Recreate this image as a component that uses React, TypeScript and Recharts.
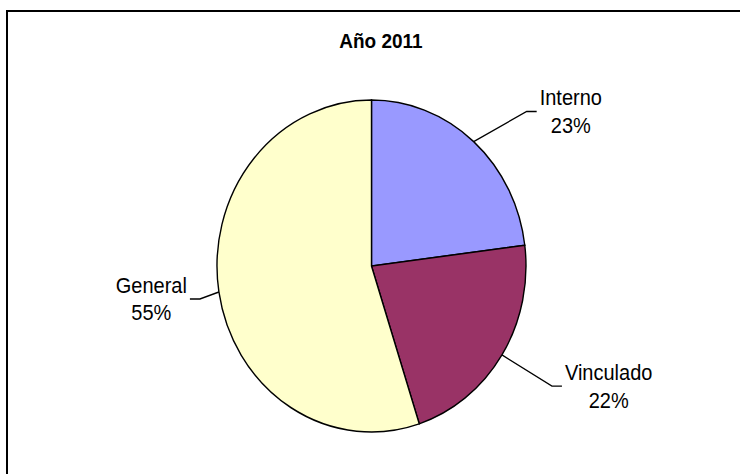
import React from "react";
import { PieChart, Pie, Cell } from "recharts";

//========== Chart Data ==========
const chartTitle = "Año 2011";
const categories = ["Interno", "Vinculado", "General"];
const shares = [23, 22, 55];
const sliceColors = ["#9999FF", "#993366", "#FFFFCC"];

//========== Label leader elbows (offset from slice edge point) ==========
const leaderElbows: [number, number][] = [
  [53, -28],
  [50, 29],
  [-19, 6.5],
];

const FONT = '"Liberation Sans", Arial, sans-serif';
const STRETCH_Y = 1.074;
const RADIAN = Math.PI / 180;
const LABEL_SIZE = 20;

const data = categories.map((name, i) => ({ name, value: shares[i] }));

let ctx: CanvasRenderingContext2D | null = null;
const textWidth = (s: string, size: number) => {
  if (!ctx) ctx = document.createElement("canvas").getContext("2d");
  if (!ctx) return s.length * size * 0.5;
  ctx.font = `${size}px "Liberation Sans", Arial, sans-serif`;
  return ctx.measureText(s).width;
};

const renderLabel = (props: any) => {
  const { cx, cy, midAngle, outerRadius, percent, index, name } = props;
  const ex = cx + outerRadius * Math.cos(-midAngle * RADIAN);
  const ey = cy + outerRadius * Math.sin(-midAngle * RADIAN);
  const [dx, dy] = leaderElbows[index];
  const bx = ex + dx;
  const by = ey + dy;
  const dir = dx >= 0 ? 1 : -1;
  const hx = bx + dir * 10;
  const pct = `${Math.round(percent * 100)}%`;
  const w = Math.max(textWidth(name, LABEL_SIZE), textWidth(pct, LABEL_SIZE));
  const tx = hx + dir * (3 + w / 2);
  return (
    <g>
      <polyline
        points={`${ex},${ey} ${bx},${by} ${hx},${by}`}
        fill="none"
        stroke="#000"
        strokeWidth={1.3}
      />
      <text x={tx} y={by - 6} textAnchor="middle" fontSize={LABEL_SIZE} fontFamily={FONT} fill="#000">
        {name}
      </text>
      <text x={tx} y={by + 20} textAnchor="middle" fontSize={LABEL_SIZE} fontFamily={FONT} fill="#000">
        {pct}
      </text>
    </g>
  );
};

//========== App ==========
const App: React.FC = () => {
  return (
    <div
      style={{
        position: "absolute",
        left: 0,
        top: 0,
        width: 740,
        height: 474,
        overflow: "hidden",
        background: "#fff",
      }}
    >
      {/*========== Chart area border ==========*/}
      <div
        style={{
          position: "absolute",
          left: 6,
          top: 10,
          width: 800,
          height: 600,
          borderTop: "2px solid #000",
          borderLeft: "2px solid #000",
        }}
      />

      {/*========== Stretched chart ==========*/}
      <div
        style={{
          position: "absolute",
          left: 0,
          top: 0,
          width: 740,
          height: 441,
          transform: `scaleY(${STRETCH_Y})`,
          transformOrigin: "0 0",
        }}
      >
        <svg width={740} height={60} style={{ position: "absolute", left: 0, top: 0 }}>
          <text x={381} y={45} textAnchor="middle" fontSize={19} fontWeight="bold" fontFamily={FONT} fill="#000">
            {chartTitle}
          </text>
        </svg>
        <PieChart width={740} height={441} margin={{ top: 0, right: 0, bottom: 0, left: 0 }}>
          <Pie
            data={data}
            dataKey="value"
            nameKey="name"
            cx={371.5}
            cy={247.7}
            outerRadius={154.5}
            startAngle={90}
            endAngle={-270}
            stroke="#000"
            strokeWidth={1.4}
            label={renderLabel}
            labelLine={false}
            isAnimationActive={false}
          >
            {data.map((d, i) => (
              <Cell key={d.name} fill={sliceColors[i]} />
            ))}
          </Pie>
        </PieChart>
      </div>
    </div>
  );
};

export default App;
